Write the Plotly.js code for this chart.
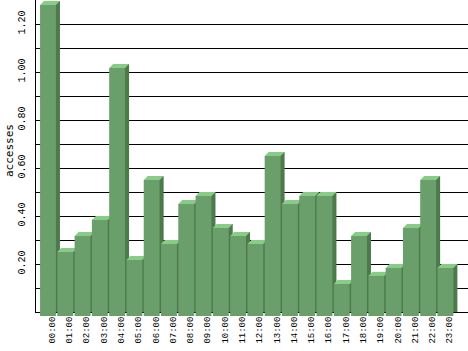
<!DOCTYPE html>
<html>
<head>
<meta charset="utf-8">
<script src="https://cdn.plot.ly/plotly-3.0.1.min.js"></script>
<style>html,body{margin:0;padding:0;background:#fff;}#chart{width:468px;height:351px;}</style>
</head>
<body>
<div id="chart"></div>
<script>
// ---- data ----
var hours = ['00:00','01:00','02:00','03:00','04:00','05:00','06:00','07:00','08:00','09:00','10:00','11:00',
             '12:00','13:00','14:00','15:00','16:00','17:00','18:00','19:00','20:00','21:00','22:00','23:00'];
var accesses = [1.296,0.267,0.333,0.400,1.033,0.233,0.567,0.300,0.467,0.500,0.367,0.333,
                0.300,0.667,0.467,0.500,0.500,0.133,0.333,0.167,0.200,0.367,0.567,0.200];
var yTickVals = [0.1,0.2,0.3,0.4,0.5,0.6,0.7,0.8,0.9,1.0,1.1,1.2,1.3];
var yTickText = ['','0.20','','0.40','','0.60','','0.80','','1.00','','1.20',''];
var yTitle = 'accesses';

// ---- style ----
var W = 468, H = 351;
var DEPTH = 4;                 // px offset of the 3D depth
var FRONT = '#6a9e6a', TOP = '#88cc88', SIDE = '#4c7a4c';
var BAR_W = 0.92;
var backL = 36, backR = 468, backT = 0, backB = 312;
var pxPerUnit = 240;
var step = 17.28, firstCenter = 52;   // px
var xr0 = -(firstCenter - backL) / step;
var xr1 = xr0 + (backR - backL) / step;
var halfPx = BAR_W * step / 2;

var traces = [
  { type:'bar', x:hours, y:accesses, xaxis:'x', yaxis:'y', width:BAR_W,
    marker:{color:SIDE, line:{width:0}}, hoverinfo:'skip' },
  { type:'bar', x:hours, y:accesses, xaxis:'x2', yaxis:'y2', width:BAR_W,
    marker:{color:FRONT, line:{width:0}}, hoverinfo:'x+y' }
];

var shapes = hours.map(function(h, i){
  return { type:'path', layer:'between', xref:'x2', yref:'y2',
    xsizemode:'pixel', ysizemode:'pixel', xanchor:h, yanchor:accesses[i],
    path:'M'+(-halfPx)+',0 L'+halfPx+',0 L'+(halfPx+DEPTH)+','+DEPTH+' L'+(-halfPx+DEPTH)+','+DEPTH+' Z',
    fillcolor:TOP, line:{width:0} };
});

var tickFontY = {family:'Liberation Mono, monospace', size:10, color:'#000'};
var tickFontX = {family:'Liberation Mono, monospace', size:9, color:'#000'};

var layout = {
  width:W, height:H, margin:{l:0,r:0,t:0,b:0},
  paper_bgcolor:'#fff', plot_bgcolor:'rgba(0,0,0,0)',
  showlegend:false, barmode:'overlay',
  xaxis:{ type:'category', domain:[backL/W, backR/W], range:[xr0, xr1], anchor:'y',
    showgrid:false, zeroline:false, showline:true, linecolor:'#000', linewidth:1,
    ticks:'', tickangle:-90, tickfont:tickFontX, fixedrange:true },
  yaxis:{ domain:[(H-backB)/H, (H-backT)/H], range:[0, (backB-backT)/pxPerUnit], anchor:'x',
    tickmode:'array', tickvals:yTickVals, ticktext:yTickText, tickangle:-90,
    tickfont:tickFontY, ticklabelstandoff:6, showgrid:true, gridcolor:'#000', gridwidth:1,
    zeroline:false, showline:true, linecolor:'#000', linewidth:1, ticks:'', fixedrange:true },
  xaxis2:{ type:'category', domain:[(backL-DEPTH)/W, (backR-DEPTH)/W], range:[xr0, xr1], anchor:'y2',
    visible:false, fixedrange:true },
  yaxis2:{ domain:[(H-backB-DEPTH)/H, 1], range:[0, (backB+DEPTH)/pxPerUnit], anchor:'x2',
    visible:false, fixedrange:true },
  shapes:shapes,
  annotations:[{ text:yTitle, xref:'paper', yref:'paper', x:9.5/W, y:(H-150.5)/H,
    showarrow:false, textangle:-90, xanchor:'center', yanchor:'middle',
    font:{family:'DejaVu Sans Mono, monospace', size:11, color:'#000'} }]
};

Plotly.newPlot('chart', traces, layout, {staticPlot:true, displayModeBar:false});
</script>
</body>
</html>
